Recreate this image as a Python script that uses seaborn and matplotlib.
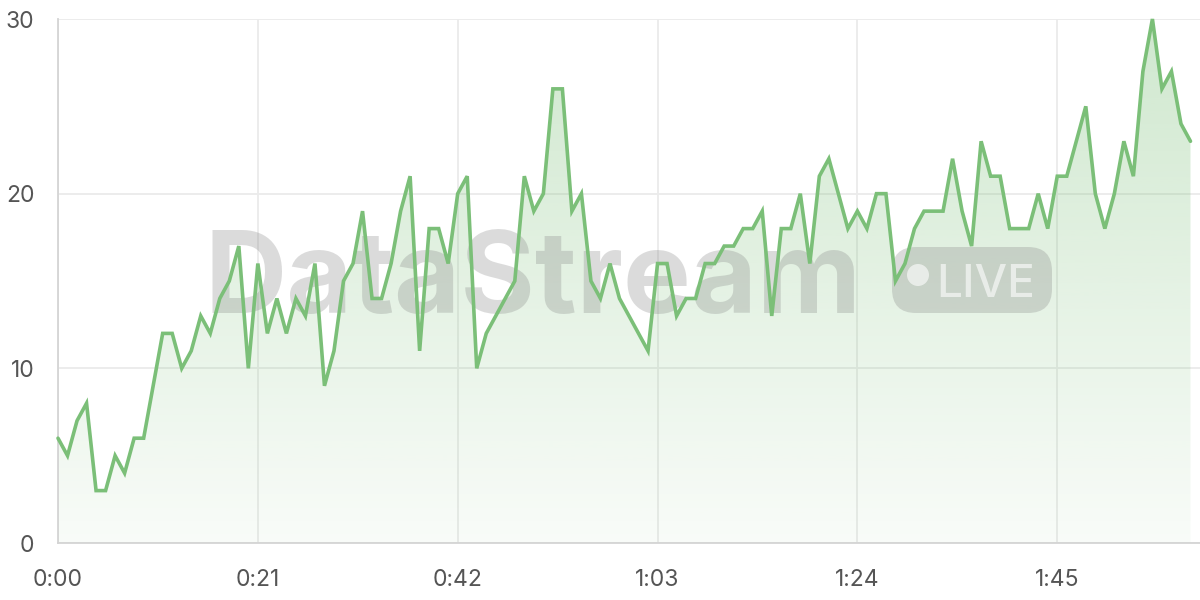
"""
Live stream viewer count with a faded DataStream watermark.
"""

import numpy as np
import seaborn as sns
import matplotlib.pyplot as plt
from matplotlib.patches import FancyBboxPatch, Circle
from matplotlib.transforms import IdentityTransform
from matplotlib.ticker import FuncFormatter


# one sample per second
seconds = list(range(120))
viewers = [
    6, 5, 7, 8, 3, 3, 5, 4, 6, 6,
    9, 12, 12, 10, 11, 13, 12, 14, 15, 17,
    10, 16, 12, 14, 12, 14, 13, 16, 9, 11,
    15, 16, 19, 14, 14, 16, 19, 21, 11, 18,
    18, 16, 20, 21, 10, 12, 13, 14, 15, 21,
    19, 20, 26, 26, 19, 20, 15, 14, 16, 14,
    13, 12, 11, 16, 16, 13, 14, 14, 16, 16,
    17, 17, 18, 18, 19, 13, 18, 18, 20, 16,
    21, 22, 20, 18, 19, 18, 20, 20, 15, 16,
    18, 19, 19, 19, 22, 19, 17, 23, 21, 21,
    18, 18, 18, 20, 18, 21, 21, 23, 25, 20,
    18, 20, 23, 21, 27, 30, 26, 27, 24, 23,
]
x_ticks = [0, 21, 42, 63, 84, 105]
y_ticks = [0, 10, 20, 30]

LINE_COLOR = "#7bbf78"
GRID_COLOR = "#ebebeb"
AXIS_COLOR = "#d4d4d4"
LABEL_COLOR = "#555555"


def mmss(value, _pos):
    value = int(round(value))
    return f"{value // 60}:{value % 60:02d}"


def main():
    sns.set_style("white")
    plt.rcParams["font.family"] = ["Inter", "DejaVu Sans"]

    fig = plt.figure(figsize=(12, 6), dpi=100)
    ax = fig.add_axes([58 / 1200, 57 / 600, 1142 / 1200, 524 / 600])

    # gradient fill under the line, clipped to the area polygon
    area = ax.fill_between(seconds, viewers, 0, color="none", lw=0)
    rgba = np.zeros((256, 1, 4))
    rgba[..., :3] = (123 / 255, 191 / 255, 120 / 255)
    rgba[..., 3] = np.linspace(0.05, 0.36, 256)[:, None]
    img = ax.imshow(rgba, origin="lower", aspect="auto",
                    extent=[0, seconds[-1], 0, 30], zorder=1)
    img.set_clip_path(area.get_paths()[0], transform=ax.transData)

    sns.lineplot(x=seconds, y=viewers, ax=ax, color=LINE_COLOR,
                 linewidth=2.6, zorder=3, clip_on=False,
                 solid_joinstyle="miter")

    ax.set_xlim(0, 120)
    ax.set_ylim(0, 30)
    ax.set_xticks(x_ticks)
    ax.set_yticks(y_ticks)
    ax.xaxis.set_major_formatter(FuncFormatter(mmss))
    ax.grid(True, color=GRID_COLOR, linewidth=1.3, zorder=0)
    ax.set_axisbelow(True)

    for side in ["top", "right"]:
        ax.spines[side].set_visible(False)
    for side in ["left", "bottom"]:
        ax.spines[side].set_color(AXIS_COLOR)
        ax.spines[side].set_linewidth(1.3)

    ax.tick_params(axis="x", length=15, width=1.3, color=GRID_COLOR,
                   pad=4, labelsize=16.5, labelcolor=LABEL_COLOR)
    ax.tick_params(axis="y", length=13, width=1.3, color=GRID_COLOR,
                   pad=4, labelsize=16.5, labelcolor=LABEL_COLOR)
    ax.set_xlabel("")
    ax.set_ylabel("")

    # watermark, placed in output pixels (origin bottom left)
    px = IdentityTransform()
    ax.text(533, 287, "DataStream", transform=px, ha="center",
            va="baseline", fontsize=82, fontweight="bold",
            color="#808080", alpha=0.28, zorder=2)
    pill = FancyBboxPatch((892, 287), 160, 66, transform=px,
                          boxstyle="round,pad=0,rounding_size=24",
                          facecolor="#808080", edgecolor="none",
                          alpha=0.28, zorder=2, clip_on=False)
    ax.add_patch(pill)
    ax.add_patch(Circle((918, 325), 11, transform=px, facecolor="white",
                        edgecolor="none", alpha=0.6, zorder=2.1,
                        clip_on=False))
    ax.text(986, 303, "LIVE", transform=px, ha="center", va="baseline",
            fontsize=33, fontweight="medium", color="white", alpha=0.6,
            zorder=2.1)

    fig.savefig("out.png", dpi=100)


if __name__ == "__main__":
    main()
